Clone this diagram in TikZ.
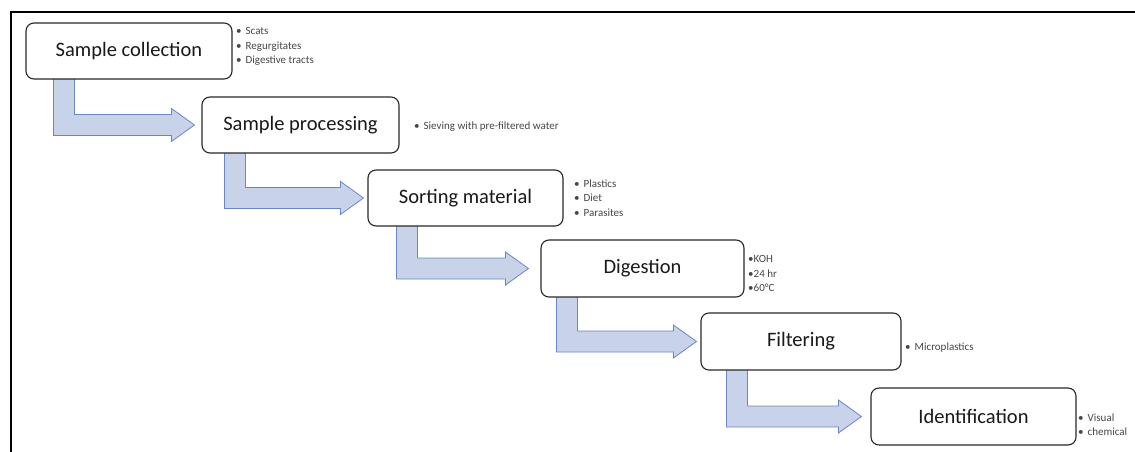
\documentclass[tikz,border=0pt]{standalone}
\usepackage{fontspec}
\setmainfont{Carlito}
\usetikzlibrary{calc}
\pgfdeclarelayer{bg}
\pgfsetlayers{bg,main}
\definecolor{arrfill}{RGB}{200,210,233}
\definecolor{arrline}{RGB}{105,135,200}
\definecolor{boxline}{RGB}{40,40,40}
\definecolor{notetext}{RGB}{70,70,70}
\tikzset{
  stepbox/.style={draw=boxline, line width=1.1pt, rounded corners=8pt, fill=white,
    font=\fontsize{20.5}{24}\selectfont, text=black!90, inner sep=0pt},
  notes/.style={anchor=west, align=left, inner sep=0pt, text=notetext,
    font=\fontsize{11}{14.5}\selectfont},
  bentarrow/.style={fill=arrfill, draw=arrline, line width=0.8pt, line join=miter}
}
% #1 from node, #2 to node, #3 shaft offset from left of #1, #4 tip gap before #2
\newcommand\bentarr[4]{%
  \begin{pgfonlayer}{bg}
  \draw[bentarrow] let \p1=(#1.south west), \p2=(#2.west) in
    (\x1+#3pt,\y1+1pt) -- (\x1+#3pt,\y2-10.5pt) -- (\x2-#4pt-23pt,\y2-10.5pt)
    -- (\x2-#4pt-23pt,\y2-16.5pt) -- (\x2-#4pt,\y2) -- (\x2-#4pt-23pt,\y2+16.5pt)
    -- (\x2-#4pt-23pt,\y2+10.5pt) -- (\x1+#3pt+21pt,\y2+10.5pt) -- (\x1+#3pt+21pt,\y1+1pt);
  \end{pgfonlayer}}
\begin{document}
\begin{tikzpicture}[x=1pt,y=-1pt]
\useasboundingbox (0,0) rectangle (1135,452);
\coordinate (fa) at (11,452);
\coordinate (fb) at (11,12.5);
\coordinate (fc) at (1136,12.5);
\draw[line width=2pt, black] (fa) -- (fb) -- (fc);

\node[stepbox, minimum width=206pt, minimum height=56pt] (b1) at (129,51) {Sample collection};
\node[stepbox, minimum width=197pt, minimum height=56pt] (b2) at (300.5,125) {Sample processing};
\node[stepbox, minimum width=195pt, minimum height=56pt] (b3) at (465.5,198) {Sorting material};
\node[stepbox, minimum width=203pt, minimum height=57pt] (b4) at (642.5,268.5) {Digestion};
\node[stepbox, minimum width=200pt, minimum height=57pt] (b5) at (801,341.5) {Filtering};
\node[stepbox, minimum width=205pt, minimum height=57pt] (b6) at (973.5,416.5) {Identification};

\node[notes] (n1) at (236,46.5) {\textbullet\hspace{4pt}Scats\\\textbullet\hspace{4pt}Regurgitates\\\textbullet\hspace{4pt}Digestive tracts};
\node[notes] (n2) at (414,127) {\textbullet\hspace{4pt}Sieving with pre-filtered water};
\node[notes] (n3) at (574,198) {\textbullet\hspace{4pt}Plastics\\\textbullet\hspace{4pt}Diet\\\textbullet\hspace{4pt}Parasites};
\node[notes] (n4) at (748,273.5) {\textbullet KOH\\\textbullet 24 hr\\\textbullet 60°C};
\node[notes] (n5) at (905,348) {\textbullet\hspace{4pt}Microplastics};
\node[notes] (n6) at (1078,424.5) {\textbullet\hspace{4pt}Visual\\\textbullet\hspace{4pt}chemical};

\bentarr{b1}{b2}{28}{7}
\bentarr{b2}{b3}{23}{4}
\bentarr{b3}{b4}{29}{12}
\bentarr{b4}{b5}{16}{4}
\bentarr{b5}{b6}{26}{9}
\end{tikzpicture}
\end{document}
